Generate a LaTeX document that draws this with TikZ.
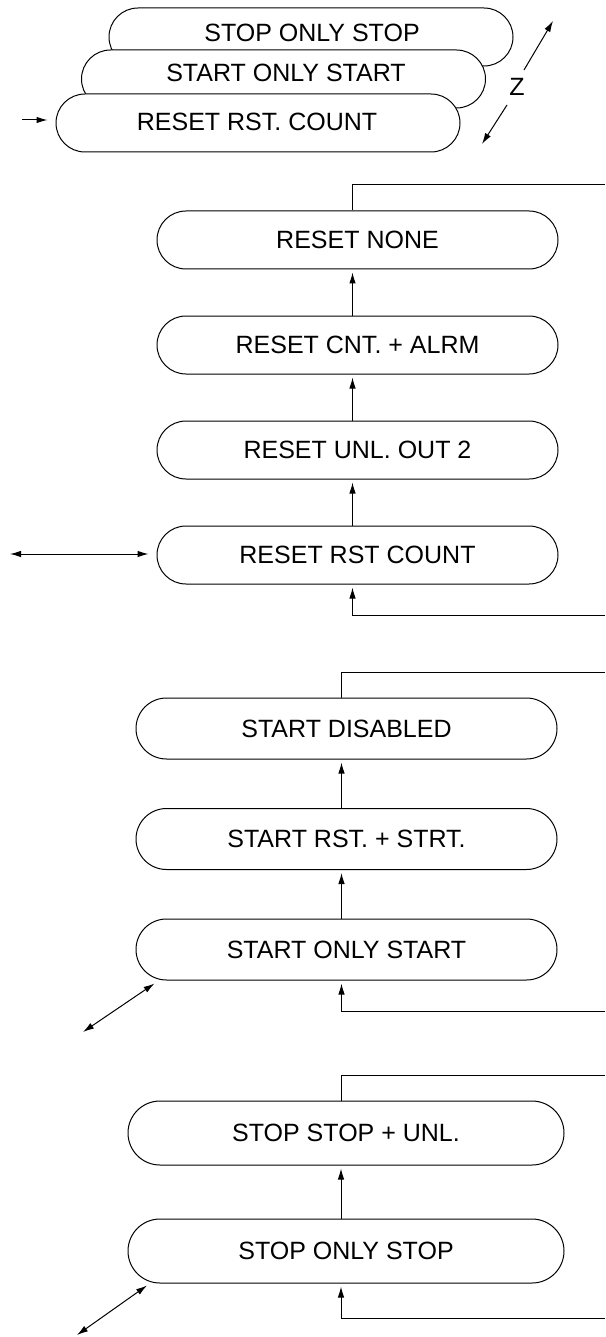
\documentclass[tikz,border=0pt]{standalone}
\usepackage{fontspec}
\setmainfont{Liberation Sans}
\usetikzlibrary{arrows.meta,shapes.misc,positioning}

\begin{document}
\begin{tikzpicture}[x=1pt,y=-1pt,
  pill/.style={draw,rounded rectangle,fill=white,line width=1pt,inner sep=0pt,
    font=\fontsize{25}{30}\selectfont},
  stk/.style={pill,minimum width=404pt,minimum height=58pt},
  rbox/.style={pill,minimum width=401pt,minimum height=58pt},
  sbox/.style={pill,minimum width=421pt,minimum height=61pt},
  pbox/.style={pill,minimum width=436pt,minimum height=64pt},
  lbl/.style={font=\fontsize{25}{30}\selectfont,inner sep=0pt},
  wire/.style={line width=1pt},
  tip/.style={-{Latex[length=11pt,width=6.5pt]}},
  flow/.style={wire,tip,shorten >=3pt},
  both/.style={wire,{Latex[length=11pt,width=6.5pt]}-{Latex[length=11pt,width=6.5pt]}}]
\useasboundingbox (0,0) rectangle (605,1337);

% stacked parameter display
\node[stk] (stkstop) at (311,37) {};
\node[lbl] (stkstopt) at (312,33) {STOP ONLY STOP};
\node[stk] (stkstart) at (283.5,79) {};
\node[lbl] (stkstartt) at (286,73) {START ONLY START};
\node[stk] (stkreset) at (258,123) {};
\node[lbl] (stkresett) at (257,122) {RESET RST. COUNT};
\coordinate (stkin) at (22,120);
\draw[wire,tip] (stkin) -- ([xshift=-8pt]stkin -| stkreset.west);
\node[lbl] (zlab) at (517,87) {Z};
\draw[wire,tip] ([shift={(7,-17)}]zlab.center) -- ++(29,-49);
\draw[wire,tip] ([shift={(-10,18)}]zlab.center) -- ++(-25,39);

% reset
\node[rbox] (rnone) at (357.5,240) {RESET NONE};
\node[rbox,below=46pt of rnone] (rcnt) {RESET CNT. + ALRM};
\node[rbox,below=46pt of rcnt] (runl) {RESET UNL. OUT 2};
\node[rbox,below=46pt of runl] (rrst) {RESET RST COUNT};
\draw[flow] ([xshift=-5pt]rcnt.north) -- ([xshift=-5pt]rnone.south);
\draw[flow] ([xshift=-5pt]runl.north) -- ([xshift=-5pt]rcnt.south);
\draw[flow] ([xshift=-5pt]rrst.north) -- ([xshift=-5pt]runl.south);
\coordinate (rtop) at (605,185);
\coordinate (rbot) at (605,615);
\coordinate (rleft) at (10,554);
\draw[wire] ([xshift=-5pt]rnone.north) |- (rtop);
\draw[flow] (rbot) -| ([xshift=-5pt]rrst.south);
\draw[both] (rleft) -- ([xshift=-8pt]rleft -| rrst.west);

% start
\node[sbox] (sdis) at (346.5,728.5) {START DISABLED};
\node[sbox,below=48.5pt of sdis] (srst) {START RST. + STRT.};
\node[sbox,below=48.5pt of srst] (sonly) {START ONLY START};
\draw[flow] ([xshift=-5pt]srst.north) -- ([xshift=-5pt]sdis.south);
\draw[flow] ([xshift=-5pt]sonly.north) -- ([xshift=-5pt]srst.south);
\coordinate (stop) at (605,672);
\coordinate (sbot) at (605,1011);
\coordinate (sdiag) at (83,1032);
\draw[wire] ([xshift=-5pt]sdis.north) |- (stop);
\draw[flow] (sbot) -| ([xshift=-5pt]sonly.south);
\draw[both] (sdiag) -- ([xshift=-192pt,yshift=-3pt]sonly.south);

% stop
\node[pbox] (punl) at (346,1133) {STOP STOP + UNL.};
\node[pbox,below=53pt of punl] (ponly) {STOP ONLY STOP};
\draw[flow] ([xshift=-5pt]ponly.north) -- ([xshift=-5pt]punl.south);
\coordinate (ptop) at (605,1075);
\coordinate (pbot) at (605,1318);
\coordinate (pdiag) at (77,1335);
\draw[wire] ([xshift=-5pt]punl.north) |- (ptop);
\draw[flow] (pbot) -| ([xshift=-5pt]ponly.south);
\draw[both] (pdiag) -- ([xshift=-199pt,yshift=-2pt]ponly.south);
\end{tikzpicture}
\end{document}
